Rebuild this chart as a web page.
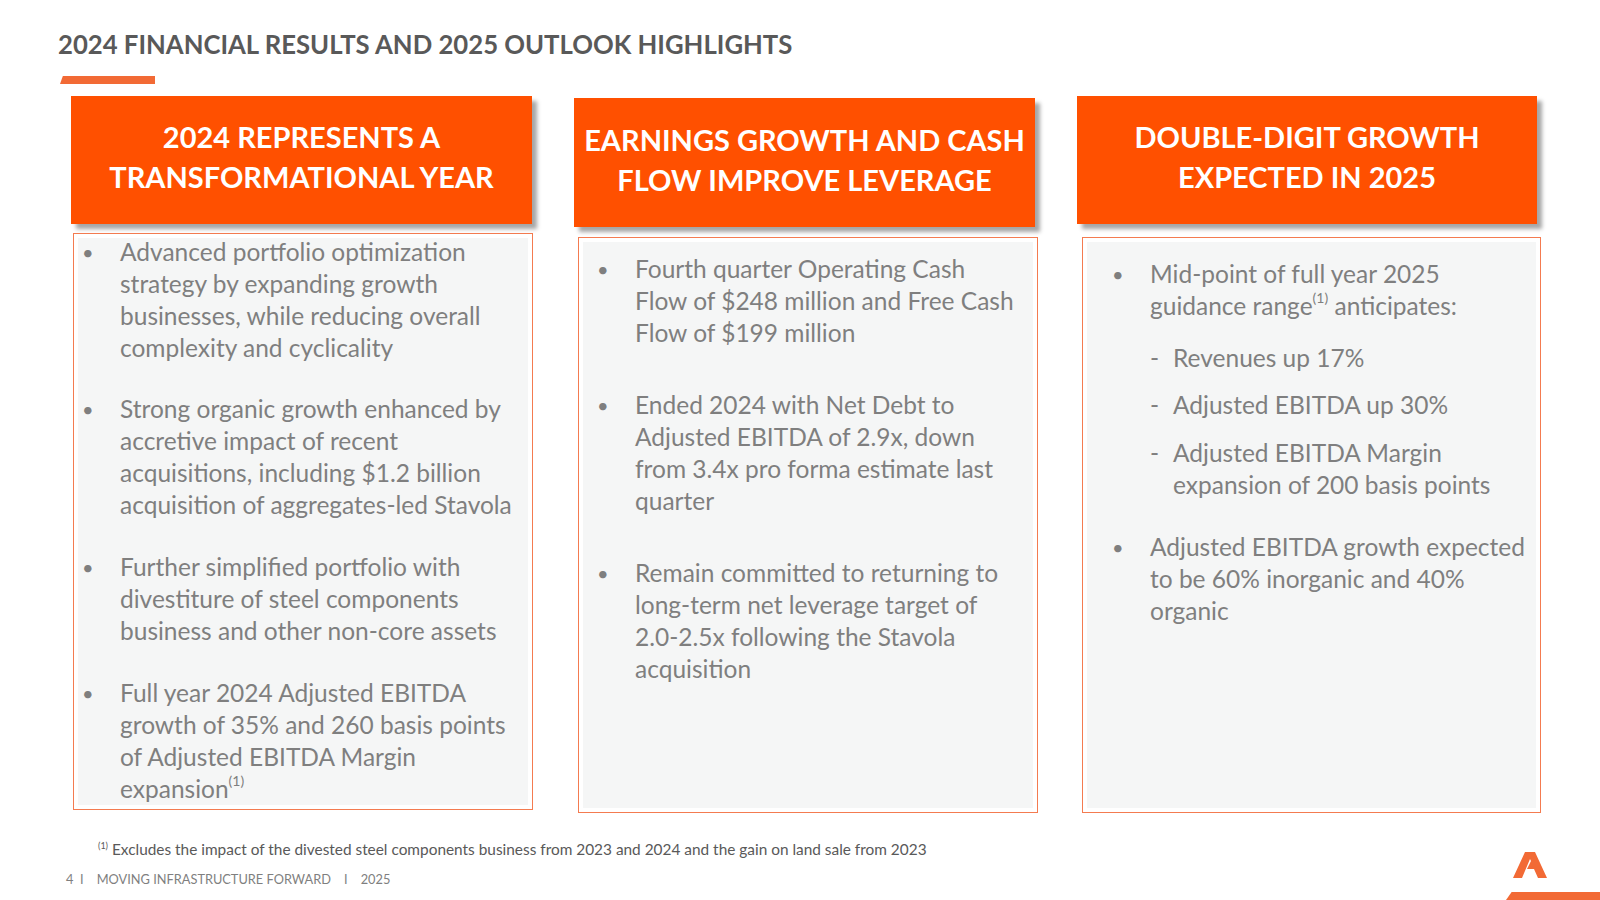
<!DOCTYPE html>
<html>
<head>
<meta charset="utf-8">
<script src="https://cdn.jsdelivr.net/npm/chart.js@4.4.1/dist/chart.umd.min.js"></script>
<style>
  html, body { margin: 0; padding: 0; background: #fff; }
  body { width: 1600px; height: 900px; position: relative; overflow: hidden; font-family: Lato, "Open Sans", sans-serif; }
  .title { position: absolute; left: 58px; top: 29px; font-size: 25.7px; font-weight: bold; color: #595959; letter-spacing: 0px; }
  .dash { position: absolute; left: 60px; top: 76px; width: 95px; height: 8px; background: #F26A35; clip-path: polygon(3% 0, 100% 0, 100% 100%, 0 100%); }
  .head { position: absolute; background: #FF5000; color: #fff; font-weight: bold; font-size: 29px; text-align: center; line-height: 40px; box-shadow: 5px 5px 4px rgba(0,0,0,0.35); display: flex; flex-direction: column; justify-content: center; padding-bottom: 6px; box-sizing: border-box; }
  .card { position: absolute; border: 1.5px solid #F47B50; background: #fff; box-sizing: border-box; }
  .card .fill { position: absolute; left: 4px; right: 4px; top: 4px; bottom: 4px; background: #F5F6F6; }
  .para { position: absolute; font-size: 24.5px; line-height: 32px; color: #7F7F7F; }
  .para .bul { position: absolute; left: -38px; top: 0; font-size: 20px; }
  .para .dsh { position: absolute; left: -23px; top: 0; }
  sup { font-size: 14px; line-height: 0; position: relative; top: -3px; vertical-align: super; }
  .foot { position: absolute; left: 98px; top: 840px; font-size: 15.4px; color: #595959; }
  .foot sup { font-size: 9px; top: 0px; }
  .pg { position: absolute; left: 66px; top: 871px; font-size: 12.8px; color: #7F7F7F; }
  .logo { position: absolute; left: 1512px; top: 852px; }
  .bar { position: absolute; left: 1506px; top: 892px; width: 94px; height: 8px; background: #F26A35; clip-path: polygon(6% 0, 100% 0, 100% 100%, 0 100%); }
</style>
</head>
<body>
<div class="title" id="title"></div>
<div class="dash"></div>
<div id="slide"></div>
<div class="foot" id="foot"></div>
<div class="pg" id="pg"></div>
<svg class="logo" width="36" height="28" viewBox="0 0 36 28">
  <polygon points="13,0 23,0 35,26 26,26 22,17 15,17 19,9 18,7 10,26 1,26" fill="#F26A35"/>
</svg>
<div class="bar"></div>
<script>
// slide text
const titleText = '2024 FINANCIAL RESULTS AND 2025 OUTLOOK HIGHLIGHTS'
const headings = [
  ['2024 REPRESENTS A', 'TRANSFORMATIONAL YEAR'],
  ['EARNINGS GROWTH AND CASH', 'FLOW IMPROVE LEVERAGE'],
  ['DOUBLE-DIGIT GROWTH', 'EXPECTED IN 2025']
]
const col1 = [
  ['Advanced portfolio optimization', 'strategy by expanding growth', 'businesses, while reducing overall', 'complexity and cyclicality'],
  ['Strong organic growth enhanced by', 'accretive impact of recent', 'acquisitions, including $1.2 billion', 'acquisition of aggregates-led Stavola'],
  ['Further simplified portfolio with', 'divestiture of steel components', 'business and other non-core assets'],
  ['Full year 2024 Adjusted EBITDA', 'growth of 35% and 260 basis points', 'of Adjusted EBITDA Margin', 'expansion<sup>(1)</sup>']
]
const col2 = [
  ['Fourth quarter Operating Cash', 'Flow of $248 million and Free Cash', 'Flow of $199 million'],
  ['Ended 2024 with Net Debt to', 'Adjusted EBITDA of 2.9x, down', 'from 3.4x pro forma estimate last', 'quarter'],
  ['Remain committed to returning to', 'long-term net leverage target of', '2.0-2.5x following the Stavola', 'acquisition']
]
const col3 = [
  ['Mid-point of full year 2025', 'guidance range<sup>(1)</sup> anticipates:'],
  ['Adjusted EBITDA growth expected', 'to be 60% inorganic and 40%', 'organic']
]
const col3Sub = [
  ['Revenues up 17%'],
  ['Adjusted EBITDA up 30%'],
  ['Adjusted EBITDA Margin', 'expansion of 200 basis points']
]
const footnote = '<sup>(1)</sup> Excludes the impact of the divested steel components business from 2023 and 2024 and the gain on land sale from 2023'
const footer = '4&nbsp;&nbsp;I&nbsp;&nbsp;&nbsp;&nbsp;MOVING INFRASTRUCTURE FORWARD&nbsp;&nbsp;&nbsp;&nbsp;I&nbsp;&nbsp;&nbsp;&nbsp;2025'

// layout
const headBoxes = [[71, 96, 461, 128], [574, 98, 461, 129], [1077, 96, 460, 128]]
const cards = [[73, 233, 460, 577], [578, 237, 460, 576], [1082, 237, 459, 576]]
const col1Top = [236, 393, 551, 677]
const col2Top = [253, 389, 557]
const col3Top = [258, 531]
const col3SubTop = [342, 389, 437]

document.getElementById('title').textContent = titleText
document.getElementById('foot').innerHTML = footnote
document.getElementById('pg').innerHTML = footer

const slide = document.getElementById('slide')
function el(cls, x, y, w, h, html) {
  const d = document.createElement('div')
  d.className = cls
  d.style.left = x + 'px'
  d.style.top = y + 'px'
  if (w) d.style.width = w + 'px'
  if (h) d.style.height = h + 'px'
  d.innerHTML = html || ''
  slide.appendChild(d)
  return d
}

cards.forEach(function (c) {
  el('card', c[0], c[1], c[2], c[3], '<div class="fill"></div>')
})
headBoxes.forEach(function (b, i) {
  el('head', b[0], b[1], b[2], b[3], headings[i].map(function (l) { return '<div>' + l + '</div>' }).join(''))
})

function paras(list, tops, x, marker) {
  list.forEach(function (p, i) {
    el('para', x, tops[i], 0, 0, '<span class="' + marker + '">' + (marker === 'bul' ? '&#8226;' : '-') + '</span>' +
      p.map(function (l) { return '<div style="white-space:nowrap">' + l + '</div>' }).join(''))
  })
}
paras(col1, col1Top, 120, 'bul')
paras(col2, col2Top, 635, 'bul')
paras(col3, col3Top, 1150, 'bul')
paras(col3Sub, col3SubTop, 1173, 'dsh')
</script>
</body>
</html>
